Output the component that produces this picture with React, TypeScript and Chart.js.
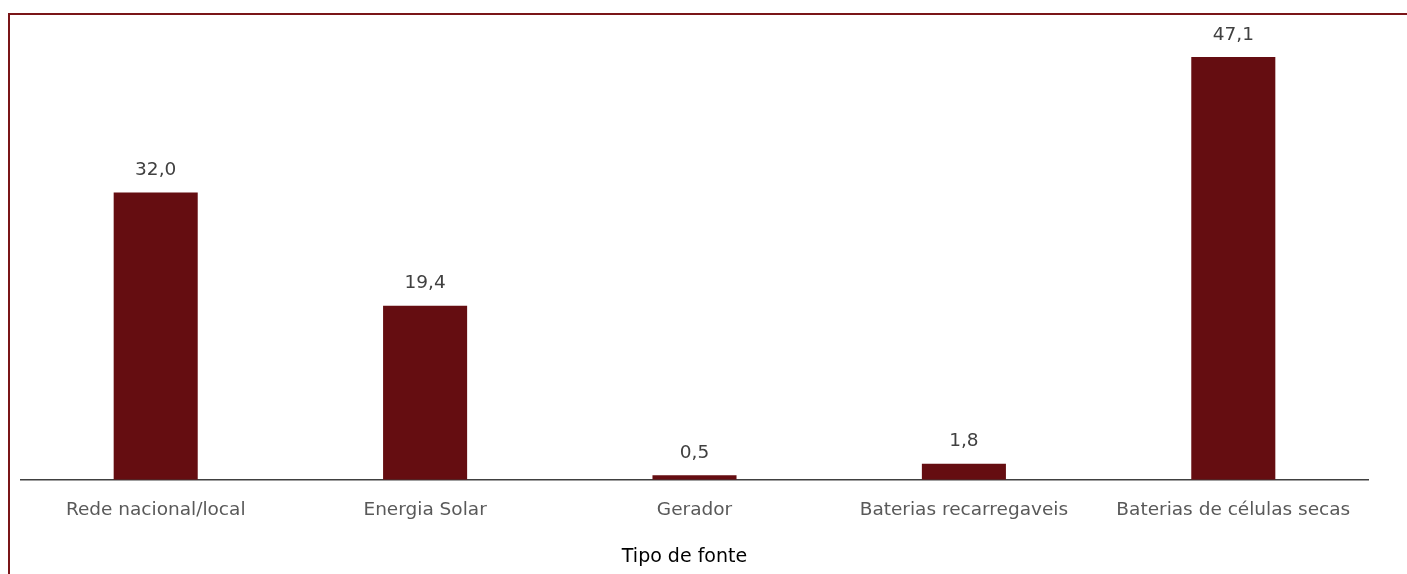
import React, { useEffect, useRef } from "react";
import { Chart, registerables } from "chart.js";

Chart.register(...registerables);

const categories = [
  "Rede nacional/local",
  "Energia Solar",
  "Gerador",
  "Baterias recarregaveis",
  "Baterias de células secas",
];
const values = [32.0, 19.4, 0.5, 1.8, 47.1];
const axisTitle = "Tipo de fonte";

const FONT = "'DejaVu Sans', sans-serif";

const valueLabels = {
  id: "valueLabels",
  afterDatasetsDraw(chart: any) {
    const ctx = chart.ctx;
    const meta = chart.getDatasetMeta(0);
    ctx.save();
    ctx.font = `18.5px ${FONT}`;
    ctx.fillStyle = "#404040";
    ctx.textAlign = "center";
    ctx.textBaseline = "middle";
    meta.data.forEach((bar: any, i: number) => {
      const v = values[i];
      ctx.fillText(v.toFixed(1).replace(".", ","), bar.x, bar.y - 22);
    });
    ctx.restore();
  },
};

const axisTitlePlugin = {
  id: "axisTitlePlugin",
  afterDraw(chart: any) {
    const ctx = chart.ctx;
    const a = chart.chartArea;
    ctx.save();
    ctx.font = `19px ${FONT}`;
    ctx.fillStyle = "#000000";
    ctx.textAlign = "center";
    ctx.textBaseline = "middle";
    ctx.fillText(axisTitle, a.left + (a.right - a.left) / 2 - 10, a.bottom + 77);
    ctx.restore();
  },
};

export default function App() {
  const ref = useRef<HTMLCanvasElement>(null);
  useEffect(() => {
    if (!ref.current) return;
    const chart = new Chart(ref.current, {
      type: "bar",
      data: {
        labels: categories,
        datasets: [
          {
            data: values,
            backgroundColor: "#650d11",
            barPercentage: 0.312,
            categoryPercentage: 1,
          },
        ],
      },
      options: {
        animation: false,
        responsive: false,
        layout: { padding: { left: 11, right: 39, top: 16, bottom: 42 } },
        plugins: { legend: { display: false }, tooltip: { enabled: false } },
        scales: {
          x: {
            grid: { display: false },
            border: { display: true, color: "#404040", width: 1.5 },
            ticks: {
              color: "#595959",
              font: { family: FONT, size: 18.5 },
              padding: 11,
              maxRotation: 0,
            },
          },
          y: {
            display: false,
            min: 0,
            max: 50,
          },
        },
      },
      plugins: [valueLabels, axisTitlePlugin],
    });
    return () => chart.destroy();
  }, []);

  return (
    <div style={{ position: "fixed", inset: 0, overflow: "hidden", background: "#fff" }}>
      <div
        style={{
          position: "absolute",
          left: 8,
          top: 13,
          width: 1500,
          height: 700,
          borderTop: "2px solid #7a1518",
          borderLeft: "2px solid #7a1518",
        }}
      />
      <canvas
        ref={ref}
        width={1397}
        height={559}
        style={{ position: "absolute", left: 10, top: 15, width: 1397, height: 559 }}
      />
    </div>
  );
}
